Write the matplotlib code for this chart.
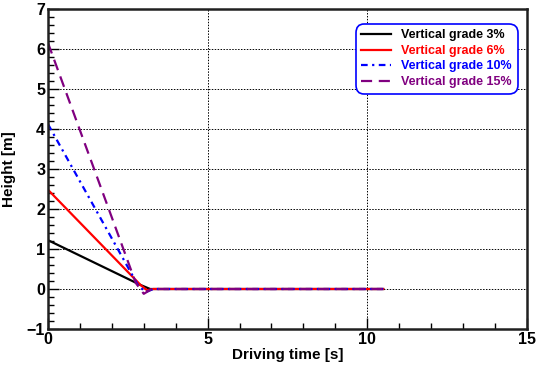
import matplotlib
matplotlib.use("Agg")
import matplotlib.pyplot as plt
from matplotlib.ticker import MultipleLocator

plt.rcParams['font.family'] = ['Liberation Sans', 'DejaVu Sans']
plt.rcParams['font.weight'] = 'bold'

t_3 = [0.0, 2.9, 3.2, 10.5]
h_3 = [1.22, 0.1, 0.0, 0.0]
t_6 = [0.0, 2.9, 3.1, 3.3, 10.5]
h_6 = [2.48, 0.1, -0.03, 0.0, 0.0]
t_10 = [0.0, 2.8, 3.05, 3.3, 10.5]
h_10 = [4.12, 0.12, -0.08, 0.0, 0.0]
t_15 = [0.0, 2.75, 3.0, 3.25, 10.5]
h_15 = [6.15, 0.15, -0.12, 0.0, 0.0]
labels = ["Vertical grade 3%", "Vertical grade 6%", "Vertical grade 10%", "Vertical grade 15%"]
colors = ["black", "red", "blue", "purple"]

fig = plt.figure(figsize=(5.42, 3.71), dpi=100)
ax = fig.add_axes([0.0886, 0.1132, 0.972 - 0.0886, 0.9757 - 0.1132])

ax.plot(t_3, h_3, color=colors[0], lw=1.6, label=labels[0])
ax.plot(t_6, h_6, color=colors[1], lw=1.6, label=labels[1])
ax.plot(t_10, h_10, color=colors[2], lw=1.6, dashes=(3, 2, 1, 2), label=labels[2])
ax.plot(t_15, h_15, color=colors[3], lw=1.6, dashes=(5, 3), label=labels[3])

ax.set_xlim(0, 15)
ax.set_ylim(-1, 7)
ax.xaxis.set_major_locator(MultipleLocator(5))
ax.xaxis.set_minor_locator(MultipleLocator(1))
ax.yaxis.set_major_locator(MultipleLocator(1))
ax.yaxis.set_minor_locator(MultipleLocator(0.2))
ax.tick_params(which='both', direction='in', width=1, colors='black', labelsize=11.5)
ax.tick_params(which='major', length=8, pad=2)
ax.tick_params(which='minor', length=4)
ax.grid(True, which='major', color='black', linestyle=(0, (1.5, 1.5)), linewidth=0.7)
for s in ax.spines.values():
    s.set_linewidth(1.8)
    s.set_color('#202020')
for lab in ax.get_xticklabels() + ax.get_yticklabels():
    lab.set_fontweight('bold')

ax.set_xlabel("Driving time [s]", fontsize=11, fontweight='bold', labelpad=1)
ax.set_ylabel("Height [m]", fontsize=11, fontweight='bold', labelpad=8)

leg = ax.legend(loc='upper right', bbox_to_anchor=(0.978, 0.95),
                prop={'weight': 'bold', 'size': 9}, handlelength=2.4,
                handletextpad=0.8, labelspacing=0.28, borderpad=0.35,
                borderaxespad=0.0, fancybox=True, framealpha=1)
leg.get_frame().set_edgecolor('blue')
leg.get_frame().set_linewidth(1.2)
leg.get_frame().set_boxstyle('round', pad=0.1, rounding_size=0.7)
for txt, c in zip(leg.get_texts(), colors):
    txt.set_color(c)

fig.savefig("out.png", dpi=100)
